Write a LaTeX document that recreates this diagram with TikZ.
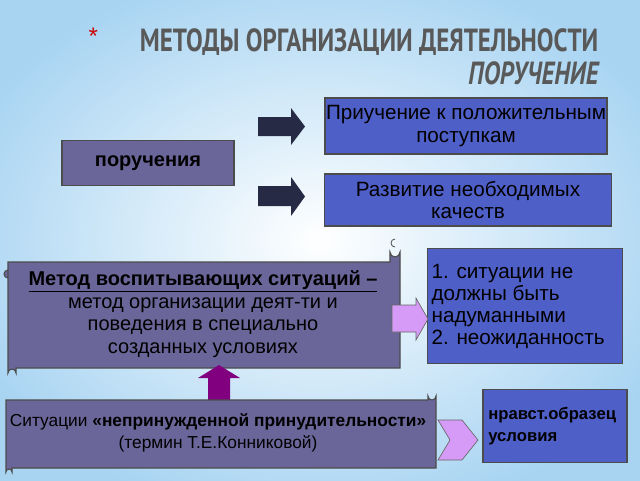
\documentclass[tikz,border=0pt]{standalone}
\usepackage{fontspec}
\setmainfont{Liberation Sans}
\newfontfamily\titlefont{PT Sans}
\definecolor{bluebox}{HTML}{4F5FC8}
\definecolor{purplebox}{HTML}{6B6699}
\definecolor{navy}{HTML}{272A45}
\definecolor{lilac}{HTML}{D59BF6}
\definecolor{plum}{HTML}{800080}
\definecolor{bgblue}{HTML}{A8D4F2}
\begin{document}
\begin{tikzpicture}[x=0.75pt,y=-0.75pt,
  bbox/.style={draw=black!70,fill=bluebox,line width=0.8pt,align=center,inner sep=0pt,font=\fontsize{15.5}{17}\selectfont},
  pbox/.style={draw=black!70,fill=purplebox,line width=0.8pt},
  darr/.style={fill=navy,draw=none},
  larr/.style={fill=lilac,draw=black!60,line width=0.5pt}]
\useasboundingbox (0,0) rectangle (640,480);
\shade[inner color=white,outer color=bgblue] (-60,-40) rectangle (700,520);
% title
\node[anchor=east,text=black!65,font=\titlefont\bfseries\fontsize{24}{24}\selectfont,xscale=0.78] (t1) at (602,42) {МЕТОДЫ ОРГАНИЗАЦИИ ДЕЯТЕЛЬНОСТИ};
\node[anchor=west,text=red!80!black,font=\fontsize{18}{18}\selectfont] (ast) at (84,36) {*};
\node[anchor=east,text=black!65,font=\titlefont\bfseries\itshape\fontsize{24}{24}\selectfont,xscale=0.78] (t2) at (602,73) {ПОРУЧЕНИЕ};
% top boxes
\node[pbox,minimum width=172*0.75pt,minimum height=45*0.75pt,font=\bfseries\fontsize{15}{17}\selectfont] (por) at (148,163) {поручения};
\node[bbox,minimum width=282*0.75pt,minimum height=56*0.75pt] (b1) at (466,126) {Приучение к положительным\\поступкам};
\node[bbox,minimum width=287*0.75pt,minimum height=52*0.75pt] (b2) at (468,200) {Развитие необходимых\\качеств};
\fill[darr] (258,117) -- (291,117) -- (291,108) -- (305,126.5) -- (291,145) -- (291,136) -- (258,136) -- cycle;
\fill[darr] (258,186) -- (291,186) -- (291,177) -- (305,196.5) -- (291,216) -- (291,206) -- (258,206) -- cycle;
% scroll 1
\draw[pbox] (8,262) -- (390,262) -- (390,252) arc[start angle=180,end angle=0,radius=5] -- (400,368) -- (16,368) -- (16,373) arc[start angle=0,end angle=-180,radius=4] -- (8,270) arc[start angle=270,end angle=90,radius=4] -- cycle;
\draw[black!70,line width=0.6pt] (395,247) arc[start angle=90,end angle=270,radius=4];
\node[align=center,font=\fontsize{15}{17}\selectfont,text=black] (s1) at (203,314) {\textbf{\underline{Метод воспитывающих ситуаций –}}\\метод организации деят-ти  и\\поведения в специально\\созданных условиях};
\node[bbox,draw=black!70,minimum width=194*0.75pt,minimum height=115*0.75pt,align=left,font=\fontsize{15.5}{16.5}\selectfont,inner sep=3pt] (b3) at (525,306) {\parbox{140pt}{1. ситуации не\\должны быть\\надуманными\\2. неожиданность}};
\draw[larr] (392,305) -- (416,305) -- (416,298) -- (428,319) -- (416,340) -- (416,332) -- (392,332) -- cycle;
% double arrow
\fill[plum] (219,365) -- (240,378) -- (230,378) -- (230,400) -- (240,400) -- (219,413) -- (198,400) -- (208,400) -- (208,378) -- (198,378) -- cycle;
% scroll 2
\draw[pbox] (6,400) -- (428,400) -- (428,396) arc[start angle=180,end angle=0,radius=4] -- (436,468) -- (12,468) -- (12,472) arc[start angle=0,end angle=-180,radius=3] -- cycle;
\node[align=center,font=\fontsize{13}{16}\selectfont,text=black] (s2) at (218,433) {Ситуации \textbf{«непринужденной принудительности»}\\(термин Т.Е.Конниковой)};
\draw[larr] (438,420) -- (462,420) -- (478,440) -- (462,460) -- (438,460) -- (450,440) -- cycle;
\node[bbox,minimum width=144*0.75pt,minimum height=73*0.75pt,align=left,font=\bfseries\fontsize{12.5}{16}\selectfont] (b4) at (555,426) {\parbox{100pt}{нравст.образец\\условия}};
\end{tikzpicture}
\end{document}
